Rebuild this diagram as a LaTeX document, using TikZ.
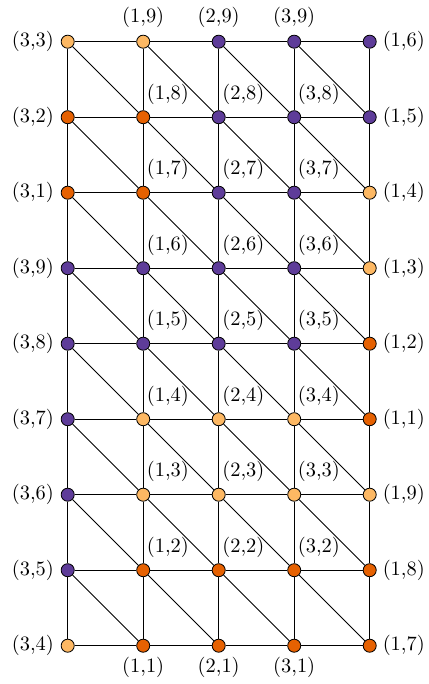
\documentclass[tikz,border=0pt]{standalone}
\definecolor{cL}{HTML}{FDB863}
\definecolor{cD}{HTML}{E66101}
\definecolor{cP}{HTML}{5E3C99}
\begin{document}
\begin{tikzpicture}[x=0.49pt,y=-0.49pt,
  vtx/.style={circle,draw=black,line width=0.4pt,inner sep=0pt,minimum size=6.4pt},
  L/.style={vtx,fill=cL}, D/.style={vtx,fill=cD}, P/.style={vtx,fill=cP},
  lab/.style={inner sep=0pt,font=\normalsize},
  lw/.style={lab,anchor=east,xshift=-6.6pt},
  le/.style={lab,anchor=west,xshift=6.2pt},
  ln/.style={lab,anchor=south,yshift=6.6pt},
  ls/.style={lab,anchor=north,yshift=-5.6pt},
  lne/.style={lab,anchor=south west,xshift=1.6pt,yshift=6.2pt},
  edge/.style={draw=black,line width=0.4pt}]
\useasboundingbox (0,0) rectangle (428,684);
\foreach \c/\r/\t/\k/\s in {
 1/1/{(3,3)}/L/lw, 2/1/{(1,9)}/L/ln, 3/1/{(2,9)}/P/ln, 4/1/{(3,9)}/P/ln, 5/1/{(1,6)}/P/le,
 1/2/{(3,2)}/D/lw, 2/2/{(1,8)}/D/lne, 3/2/{(2,8)}/P/lne, 4/2/{(3,8)}/P/lne, 5/2/{(1,5)}/P/le,
 1/3/{(3,1)}/D/lw, 2/3/{(1,7)}/D/lne, 3/3/{(2,7)}/P/lne, 4/3/{(3,7)}/P/lne, 5/3/{(1,4)}/L/le,
 1/4/{(3,9)}/P/lw, 2/4/{(1,6)}/P/lne, 3/4/{(2,6)}/P/lne, 4/4/{(3,6)}/P/lne, 5/4/{(1,3)}/L/le,
 1/5/{(3,8)}/P/lw, 2/5/{(1,5)}/P/lne, 3/5/{(2,5)}/P/lne, 4/5/{(3,5)}/P/lne, 5/5/{(1,2)}/D/le,
 1/6/{(3,7)}/P/lw, 2/6/{(1,4)}/L/lne, 3/6/{(2,4)}/L/lne, 4/6/{(3,4)}/L/lne, 5/6/{(1,1)}/D/le,
 1/7/{(3,6)}/P/lw, 2/7/{(1,3)}/L/lne, 3/7/{(2,3)}/L/lne, 4/7/{(3,3)}/L/lne, 5/7/{(1,9)}/L/le,
 1/8/{(3,5)}/P/lw, 2/8/{(1,2)}/D/lne, 3/8/{(2,2)}/D/lne, 4/8/{(3,2)}/D/lne, 5/8/{(1,8)}/D/le,
 1/9/{(3,4)}/L/lw, 2/9/{(1,1)}/D/ls, 3/9/{(2,1)}/D/ls, 4/9/{(3,1)}/D/ls, 5/9/{(1,7)}/D/le}{
  \node[\k] (n-\c-\r) at ({67.7+75.5*(\c-1)},{41.7+75.5*(\r-1)}) {};
  \node[\s] (t-\c-\r) at (n-\c-\r.center) {\t};
}
\foreach \c in {1,...,4}{
  \pgfmathtruncatemacro{\cn}{\c+1}
  \foreach \r in {1,...,9}{
    \draw[edge] (n-\c-\r) -- (n-\cn-\r);
  }
  \foreach \r in {1,...,8}{
    \pgfmathtruncatemacro{\rn}{\r+1}
    \draw[edge] (n-\c-\r) -- (n-\cn-\rn);
  }
}
\foreach \c in {1,...,5}{
  \foreach \r in {1,...,8}{
    \pgfmathtruncatemacro{\rn}{\r+1}
    \draw[edge] (n-\c-\r) -- (n-\c-\rn);
  }
}
\end{tikzpicture}
\end{document}
